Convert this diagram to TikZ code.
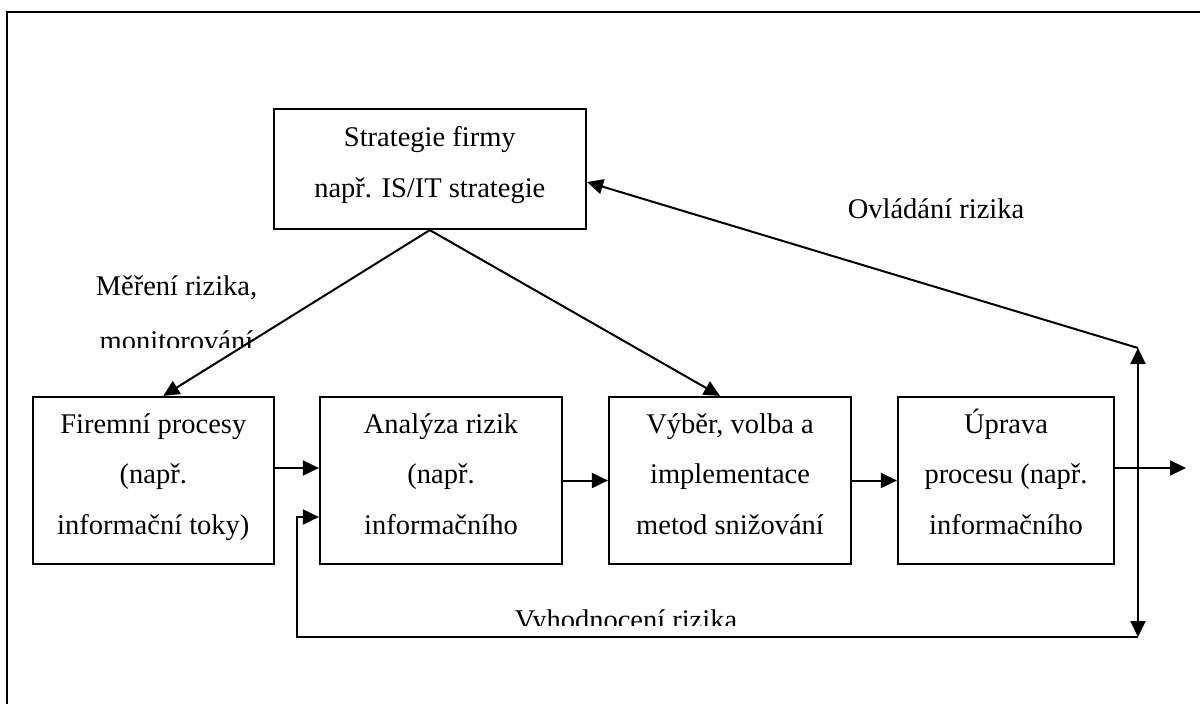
\documentclass[tikz,border=0pt]{standalone}
\usepackage{fontspec}
\setmainfont{Liberation Serif}
\usetikzlibrary{arrows.meta}
% strut that fixes the line pitch inside the boxes
\def\st{\vrule width 0pt height 28.25pt depth 22.25pt}
\begin{document}
\begin{tikzpicture}[x=1pt,y=-1pt,
  box/.style={draw, line width=2.2pt, inner sep=0pt, align=center,
    font=\fontsize{28.5}{50.5}\selectfont},
  tri/.style={-{Triangle[length=16pt,width=15pt]}, line width=2pt},
  bothtri/.style={{Triangle[length=16pt,width=15pt]}-{Triangle[length=16pt,width=15pt]}, line width=2pt},
  lbl/.style={anchor=base, inner sep=0pt, font=\fontsize{28.5}{34}\selectfont}]
\useasboundingbox (0,0) rectangle (1200,704);
\clip (0,0) rectangle (1200,704);
% outer frame
\draw[line width=2.2pt] (7,730) -- (7,12) -- (1230,12);

% boxes
\node[box, minimum width=312.4pt, minimum height=120pt] (strat) at (429.8,169)
  {\st Strategie firmy\\\st např. IS/IT strategie};
\node[box, minimum width=240.6pt, minimum height=167pt] (firm) at (153.3,480.5)
  {\st Firemní procesy\\\st (např.\\\st informační toky)};
\node[box, minimum width=242pt, minimum height=167pt] (anal) at (441,480.5)
  {\st Analýza rizik\\\st (např.\\\st informačního};
\node[box, minimum width=242pt, minimum height=167pt] (vyber) at (730,480.5)
  {\st Výběr, volba a\\\st implementace\\\st metod snižování};
\node[box, minimum width=216pt, minimum height=167pt] (uprava) at (1006,480.5)
  {\st Úprava\\\st procesu (např.\\\st informačního};

% labels
\node[lbl] (mer) at (176.5,295) {Měření rizika,};
\begin{scope}
  \clip (0,0) rectangle (1200,347);
  \node[lbl] (mon) at (176.5,350) {monitorování};
\end{scope}
\node[lbl] (ovl) at (936,218) {Ovládání rizika};
\begin{scope}
  \clip (0,0) rectangle (1200,625);
  \node[lbl] (vyh) at (626,629) {Vyhodnocení rizika};
\end{scope}

% free ends of connectors
\coordinate (top) at (1138,348);
\coordinate (bot) at (1138,637);
\coordinate (corner) at (297,637);
\coordinate (out) at (1186,468);

% connectors
\draw[tri] (strat.south) -- ([xshift=10pt]firm.north);
\draw[tri] (strat.south) -- ([xshift=-10pt]vyber.north);
\draw[tri] (top) -- ([yshift=-13pt]strat.east);
\draw[bothtri] (bot) -- (top);
\draw[tri] ([yshift=12.5pt]firm.east) -- ([yshift=12.5pt]anal.west);
\draw[tri] (anal.east) -- (vyber.west);
\draw[tri] (vyber.east) -- (uprava.west);
\draw[tri] ([yshift=12.5pt]uprava.east) -- (out);
\draw[tri] (bot) -- (corner) -- ([yshift=-36.5pt]anal.west -| corner) -- ([yshift=-36.5pt]anal.west);
\end{tikzpicture}
\end{document}
